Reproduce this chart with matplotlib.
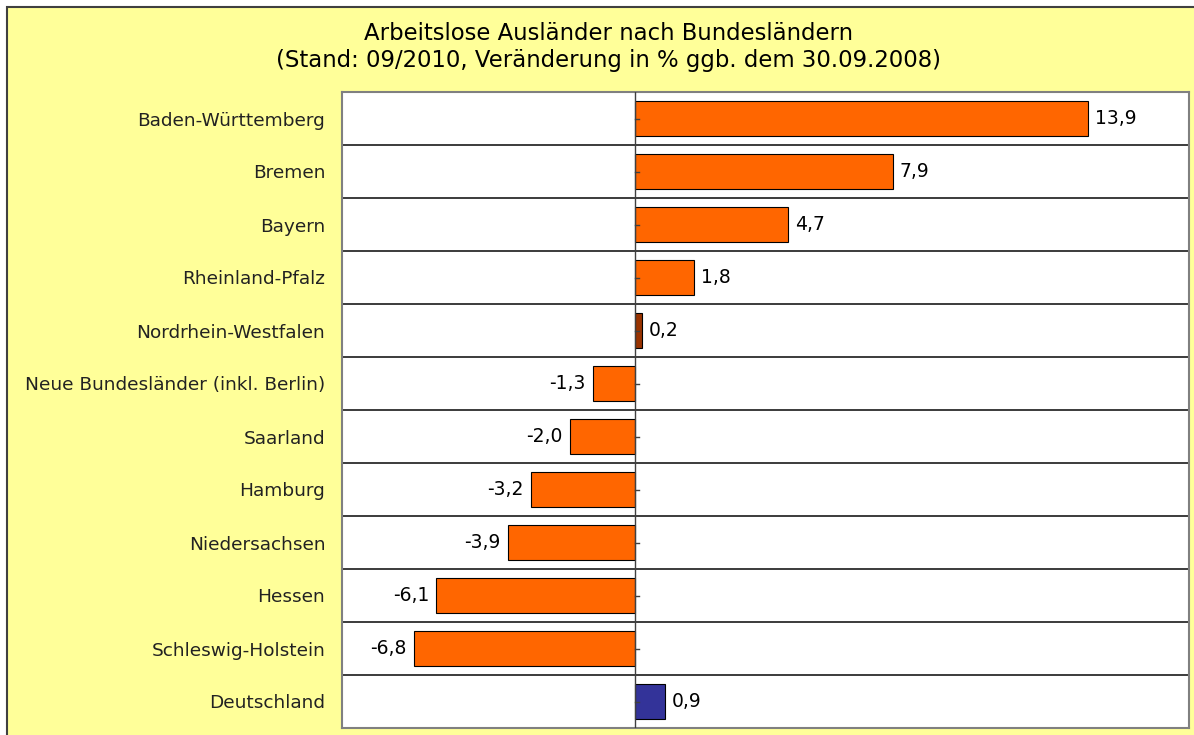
"""
Arbeitslose Ausländer nach Bundesländern - horizontal bar chart.
"""

import matplotlib.pyplot as plt
from matplotlib.patches import Rectangle
import numpy as np


LAENDER = [
    "Baden-Württemberg",
    "Bremen",
    "Bayern",
    "Rheinland-Pfalz",
    "Nordrhein-Westfalen",
    "Neue Bundesländer (inkl. Berlin)",
    "Saarland",
    "Hamburg",
    "Niedersachsen",
    "Hessen",
    "Schleswig-Holstein",
    "Deutschland",
]
VERAENDERUNG = [13.9, 7.9, 4.7, 1.8, 0.2, -1.3, -2.0, -3.2, -3.9, -6.1, -6.8, 0.9]
FARBEN = ["#FF6600"] * 4 + ["#993300"] + ["#FF6600"] * 6 + ["#333399"]

TITLE = "Arbeitslose Ausländer nach Bundesländern\n(Stand: 09/2010, Veränderung in % ggb. dem 30.09.2008)"
OUTPUT_FILE = "out.png"


def main():
    fig = plt.figure(figsize=(11.94, 7.35), dpi=100, facecolor="white")

    # yellow chart area with dark border
    fig.patches.append(Rectangle((7 / 1194, -0.05), 1.2, (735 - 7) / 735 + 0.05,
                                 transform=fig.transFigure, facecolor="#FFFF99",
                                 edgecolor="#404040", linewidth=1.5, zorder=-1))

    ax = fig.add_axes([342 / 1194, 7 / 735, 847 / 1194, (728 - 92) / 735])
    ax.set_zorder(2)
    ax.set_facecolor("white")

    y_pos = np.arange(len(LAENDER))
    ax.barh(y_pos, VERAENDERUNG, height=0.66, color=FARBEN,
            edgecolor="black", linewidth=0.8, zorder=3)

    ax.set_xlim(-9, 17)
    ax.set_ylim(len(LAENDER) - 0.5, -0.5)

    # horizontal grid lines between categories
    for boundary in np.arange(0.5, len(LAENDER) - 0.5, 1):
        ax.axhline(boundary, color="#1a1a1a", linewidth=1.2, zorder=1)

    # category axis at zero
    ax.axvline(0, color="#404040", linewidth=1.0, zorder=4)
    for yc in y_pos:
        ax.plot([0, 0.12], [yc, yc], color="#404040", linewidth=1.0, zorder=4)

    for yc, value in zip(y_pos, VERAENDERUNG):
        text = f"{value:.1f}".replace(".", ",")
        if value >= 0:
            ax.text(value + 0.22, yc, text, ha="left", va="center",
                    fontsize=13.5, color="black", zorder=5)
        else:
            ax.text(value - 0.22, yc, text, ha="right", va="center",
                    fontsize=13.5, color="black", zorder=5)

    ax.set_xticks([])
    ax.set_yticks(y_pos)
    ax.set_yticklabels(LAENDER, fontsize=13.3, color="#222222")
    ax.tick_params(axis="y", length=0, pad=12)

    for spine in ax.spines.values():
        spine.set_color("#808080")
        spine.set_linewidth(1.5)

    fig.text(608 / 1194, 1 - 47 / 735, TITLE, ha="center", va="center",
             fontsize=16.4, color="black", linespacing=1.2)

    fig.savefig(OUTPUT_FILE, dpi=100, facecolor=fig.get_facecolor())
    plt.close(fig)


if __name__ == "__main__":
    main()
